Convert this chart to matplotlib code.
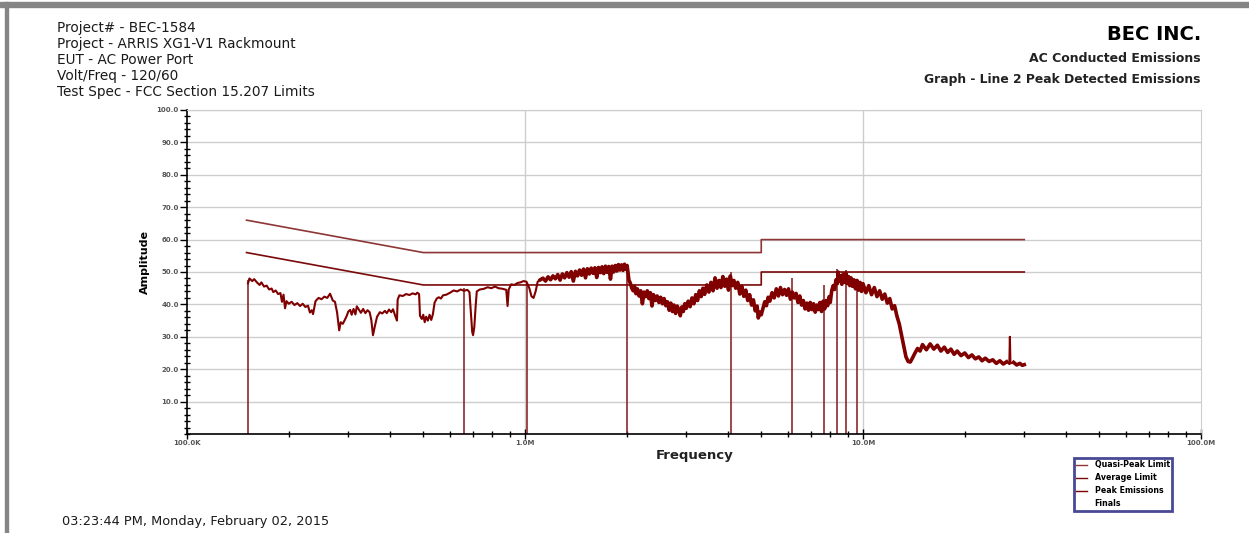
import matplotlib
matplotlib.use("Agg")
import matplotlib.pyplot as plt
from matplotlib.lines import Line2D
from matplotlib.patches import Rectangle
from matplotlib.ticker import FixedLocator, FixedFormatter, MultipleLocator

# limit lines (MHz, dBuV)
qp_freq = [0.15, 0.5, 5.0, 5.0, 30.0]
qp_amp = [66, 56, 56, 60, 60]
avg_freq = [0.15, 0.5, 5.0, 5.0, 30.0]
avg_amp = [56, 46, 46, 50, 50]

# peak emissions trace (MHz, dBuV)
peak_freq = [
    0.1515, 0.153, 0.156, 0.158, 0.161, 0.164, 0.166, 0.169, 0.172, 0.175,
    0.178, 0.180, 0.183, 0.186, 0.189, 0.191, 0.193, 0.195, 0.197, 0.200,
    0.204, 0.208, 0.212, 0.216, 0.220, 0.224, 0.228, 0.231, 0.234, 0.236,
    0.240, 0.245, 0.250, 0.255, 0.260, 0.265, 0.270, 0.274, 0.278, 0.282,
    0.285, 0.289, 0.293, 0.297, 0.300, 0.304, 0.307, 0.311, 0.315, 0.318,
    0.322, 0.327, 0.332, 0.337, 0.342, 0.347, 0.351, 0.355, 0.360, 0.365,
    0.372, 0.378, 0.385, 0.390, 0.396, 0.402, 0.407, 0.412, 0.418, 0.420,
    0.425, 0.435, 0.445, 0.455, 0.465, 0.475, 0.480, 0.486, 0.489, 0.495,
    0.500, 0.505, 0.510, 0.516, 0.522, 0.528, 0.534, 0.540, 0.548, 0.556,
    0.564, 0.572, 0.585, 0.600, 0.615, 0.630, 0.645, 0.660, 0.675, 0.685,
    0.690, 0.698, 0.702, 0.708, 0.714, 0.720, 0.735, 0.755, 0.775, 0.795,
    0.815, 0.835, 0.860, 0.880, 0.888, 0.895, 0.910, 0.930, 0.950, 0.970,
    0.990, 1.010, 1.030, 1.045, 1.060, 1.075, 1.090, 1.110, 1.130, 1.150,
    1.170, 1.190, 1.210, 1.230, 1.250, 1.270, 1.290, 1.310, 1.330, 1.350,
    1.370, 1.390, 1.410, 1.430, 1.450, 1.470, 1.490, 1.510, 1.530, 1.550,
    1.570, 1.590, 1.610, 1.630, 1.650, 1.670, 1.690, 1.710, 1.730, 1.750,
    1.770, 1.790, 1.810, 1.830, 1.850, 1.870, 1.890, 1.910, 1.930, 1.950,
    1.970, 1.990, 2.005, 2.030, 2.050, 2.070, 2.090, 2.110, 2.130, 2.150,
    2.175, 2.200, 2.225, 2.250, 2.275, 2.300, 2.325, 2.350, 2.375, 2.400,
    2.430, 2.460, 2.490, 2.520, 2.550, 2.580, 2.610, 2.640, 2.670, 2.700,
    2.730, 2.760, 2.790, 2.820, 2.850, 2.880, 2.910, 2.940, 2.970, 3.000,
    3.040, 3.080, 3.120, 3.160, 3.200, 3.240, 3.280, 3.320, 3.360, 3.400,
    3.450, 3.500, 3.550, 3.600, 3.650, 3.700, 3.750, 3.800, 3.850, 3.900,
    3.950, 4.000, 4.050, 4.100, 4.150, 4.200, 4.260, 4.320, 4.380, 4.440,
    4.500, 4.560, 4.620, 4.680, 4.740, 4.800, 4.860, 4.900, 4.950, 5.000,
    5.060, 5.120, 5.180, 5.240, 5.300, 5.380, 5.460, 5.540, 5.620, 5.700,
    5.780, 5.860, 5.940, 6.020, 6.100, 6.180, 6.260, 6.340, 6.420, 6.500,
    6.580, 6.660, 6.740, 6.820, 6.900, 6.980, 7.060, 7.140, 7.220, 7.300,
    7.380, 7.460, 7.540, 7.620, 7.700, 7.780, 7.860, 7.940, 8.000, 8.080,
    8.160, 8.240, 8.320, 8.400, 8.440, 8.500, 8.580, 8.660, 8.740, 8.820,
    8.900, 8.980, 9.060, 9.140, 9.220, 9.300, 9.400, 9.500, 9.600, 9.700,
    9.800, 9.900, 10.00, 10.20, 10.40, 10.60, 10.80, 11.00, 11.20, 11.40,
    11.60, 11.80, 12.00, 12.20, 12.40, 12.60, 12.80, 13.00, 13.20, 13.40,
    13.60, 13.80, 14.00, 14.25, 14.50, 14.75, 15.00, 15.40, 15.80, 16.20,
    16.60, 17.00, 17.40, 17.80, 18.20, 18.60, 19.00, 19.50, 20.00, 20.50,
    21.00, 21.50, 22.00, 22.50, 23.00, 23.60, 24.20, 24.80, 25.40, 26.00,
    26.60, 27.10, 27.20, 27.30, 27.90, 28.50, 29.10, 29.60, 30.00,
]
peak_amp = [
    46.5, 48.0, 47.2, 47.8, 46.8, 46.0, 46.8, 45.5, 45.8, 44.6,
    44.9, 43.8, 44.3, 43.2, 43.5, 40.8, 43.0, 38.8, 41.0, 40.2,
    40.8, 39.8, 40.4, 39.5, 40.2, 39.2, 39.6, 37.5, 38.2, 37.0,
    41.0, 42.0, 41.6, 42.4, 42.0, 43.3, 41.2, 40.8, 37.5, 32.0,
    34.5, 34.0, 35.2, 36.5, 37.8, 38.3, 36.8, 38.6, 36.9, 39.4,
    38.5, 37.4, 38.6, 37.3, 38.2, 37.6, 35.2, 30.5, 33.5, 36.2,
    37.6, 37.2, 38.0, 37.3, 38.4, 37.6, 38.5, 36.8, 35.0, 41.5,
    42.8, 42.6, 43.2, 42.9, 43.4, 43.1, 43.6, 43.2, 36.5, 35.5,
    36.8, 34.5, 36.2, 35.0, 36.8, 35.2, 37.0, 40.5, 41.8, 42.2,
    41.8, 42.8, 43.0, 43.6, 44.3, 44.0, 44.6, 44.2, 44.5, 43.8,
    39.0, 31.5, 30.5, 33.0, 39.0, 44.0, 44.6, 44.8, 45.3, 45.0,
    45.5, 45.0, 44.8, 44.5, 39.5, 44.6, 46.2, 46.0, 46.6, 46.8,
    47.2, 47.0, 45.0, 42.5, 42.0, 44.0, 47.0, 47.6, 48.1, 47.2,
    48.5, 47.6, 48.8, 47.9, 49.2, 47.5, 49.4, 48.2, 49.8, 48.4,
    50.1, 47.2, 50.2, 48.8, 50.6, 49.0, 50.9, 48.2, 51.0, 49.4,
    51.2, 49.6, 51.3, 48.3, 51.4, 49.8, 51.6, 49.5, 51.8, 49.9,
    51.7, 47.8, 51.8, 50.0, 52.0, 50.3, 52.3, 50.6, 52.2, 50.5,
    52.4, 50.8, 52.0, 47.5, 46.5, 45.0, 44.2, 45.5, 43.3, 44.8,
    42.6, 44.2, 40.2, 43.8, 42.4, 44.2, 41.8, 43.6, 39.5, 43.0,
    41.2, 42.6, 40.6, 42.2, 40.2, 41.8, 39.6, 40.8, 38.2, 40.4,
    37.8, 39.8, 37.2, 39.5, 38.4, 36.5, 39.2, 37.8, 40.2, 38.8,
    41.0, 39.3, 42.0, 40.2, 43.0, 41.2, 44.2, 42.4, 45.0, 43.1,
    46.0, 43.8, 46.8, 44.2, 48.2, 45.0, 47.4, 45.2, 48.6, 45.6,
    47.8, 44.4, 48.8, 45.8, 47.4, 45.0, 46.8, 43.2, 45.6, 42.5,
    44.4, 41.2, 43.0, 39.8, 41.4, 38.0, 39.5, 35.8, 37.6, 36.8,
    38.8, 40.8, 39.6, 42.2, 41.0, 43.6, 42.0, 44.8, 42.6, 45.2,
    43.0, 44.6, 42.8, 44.8, 41.6, 43.8, 42.0, 43.4, 40.6, 42.6,
    39.8, 41.2, 38.6, 40.4, 38.2, 40.6, 38.4, 40.2, 37.6, 39.8,
    38.4, 40.6, 37.8, 41.0, 38.6, 41.2, 39.6, 42.4, 40.6, 44.2,
    45.8, 44.6, 47.6, 46.4, 50.0, 47.2, 48.8, 46.2, 49.4, 46.8,
    49.6, 46.4, 48.6, 45.8, 48.2, 45.6, 47.6, 44.8, 47.4, 44.4,
    46.8, 44.0, 46.4, 43.6, 45.8, 43.0, 45.2, 42.4, 44.2, 41.6,
    43.2, 40.4, 41.8, 38.6, 39.6, 36.4, 34.0, 30.5, 27.0, 23.8,
    22.4, 22.2, 23.4, 25.0, 26.4, 25.6, 27.6, 26.0, 27.8, 26.2,
    27.4, 25.6, 26.8, 25.2, 26.2, 24.6, 25.6, 24.2, 25.0, 23.6,
    24.4, 23.2, 23.8, 22.6, 23.4, 22.4, 22.9, 21.8, 22.6, 21.6,
    22.3, 21.6, 30.0, 21.8, 22.1, 21.3, 21.8, 21.2, 21.4,
]

# finals: vertical markers
finals_freq = [0.1515, 0.66, 1.013, 2.0, 4.08, 6.17, 7.67, 8.40, 8.91, 9.63]
finals_amp = [47.4, 45.0, 46.5, 51.5, 50.0, 48.0, 46.0, 51.0, 50.5, 47.5]

y_ticks = [10, 20, 30, 40, 50, 60, 70, 80, 90, 100]
x_ticks = [0.1, 1.0, 10.0, 100.0]
x_labels = ["100.0K", "1.0M", "10.0M", "100.0M"]

header_left = [
    "Project# - BEC-1584",
    "Project - ARRIS XG1-V1 Rackmount",
    "EUT - AC Power Port",
    "Volt/Freq - 120/60",
    "Test Spec - FCC Section 15.207 Limits",
]

W, H = 1249, 533
fig = plt.figure(figsize=(W / 100, H / 100), dpi=100)
fig.patch.set_facecolor("white")

# window frame (grey bars top and left)
fig.patches.append(Rectangle((0, 1 - 7 / H), 1, 5 / H, transform=fig.transFigure,
                             color="#858585", zorder=0))
fig.patches.append(Rectangle((5 / W, 0), 3 / W, 1 - 2 / H, transform=fig.transFigure,
                             color="#858585", zorder=0))

ax = fig.add_axes([187 / W, 99 / H, (1201 - 187) / W, (434 - 110) / H])
ax.set_xscale("log")
ax.set_xlim(0.1, 100)
ax.set_ylim(0, 100)

ax.plot(qp_freq, qp_amp, color="#8e3636", lw=1.2, zorder=3)
ax.plot(avg_freq, avg_amp, color="#7a0a0a", lw=1.2, zorder=3)
ax.vlines(finals_freq, 0, finals_amp, color="#8a2a2a", lw=1.2, zorder=2)
ax.plot(peak_freq, peak_amp, color="#800000", lw=1.5, zorder=4)

# the noisy part of the sweep is drawn heavier, like the analyser plot
# (skip the thin spike near 27 MHz)
for lo, hi in [(1.1, 27.05), (27.35, 30.0)]:
    idx = [i for i, f in enumerate(peak_freq) if lo <= f <= hi]
    ax.plot([peak_freq[i] for i in idx], [peak_amp[i] for i in idx],
            color="#800000", lw=2.6, zorder=4)

# grid and spines
for y in y_ticks:
    ax.axhline(y, color="#cdcdcd", lw=1, zorder=1)
for x in [1.0, 10.0]:
    ax.axvline(x, color="#cdcdcd", lw=1, zorder=1)
for s in ["top", "right"]:
    ax.spines[s].set_color("#cdcdcd")
for s in ["left", "bottom"]:
    ax.spines[s].set_color("black")
    ax.spines[s].set_linewidth(1.2)

ax.yaxis.set_major_locator(FixedLocator(y_ticks))
ax.yaxis.set_major_formatter(FixedFormatter(["%.1f" % v for v in y_ticks]))
ax.yaxis.set_minor_locator(MultipleLocator(2))
ax.xaxis.set_major_locator(FixedLocator(x_ticks))
ax.xaxis.set_major_formatter(FixedFormatter(x_labels))
ax.xaxis.set_minor_locator(FixedLocator([m * d for d in [0.1, 1, 10] for m in range(2, 10)]))
ax.xaxis.set_minor_formatter(FixedFormatter([]))

ax.tick_params(axis="y", which="major", direction="out", length=5, width=1,
               labelsize=5, labelcolor="#555555", pad=1)
ax.tick_params(axis="y", which="minor", direction="inout", length=5, width=1)
ax.tick_params(axis="x", which="major", direction="inout", length=7, width=1,
               labelsize=5, labelcolor="#555555", pad=1)
ax.tick_params(axis="x", which="minor", direction="inout", length=5, width=1)
for lab in ax.get_xticklabels() + ax.get_yticklabels():
    lab.set_fontweight("bold")

fig.text(145 / W, 1 - 262 / H, "Amplitude", rotation=90, ha="center", va="center",
         fontsize=8, fontweight="bold")
fig.text(695 / W, 1 - 456 / H, "Frequency", ha="center", va="center",
         fontsize=9.5, fontweight="bold", color="#222222")

# header text
for i, line in enumerate(header_left):
    fig.text(57 / W, 1 - (28 + 16 * i) / H, line, ha="left", va="center",
             fontsize=9.8, color="#1a1a1a")
fig.text(1201 / W, 1 - 35 / H, "BEC INC.", ha="right", va="center",
         fontsize=14, fontweight="bold")
fig.text(1201 / W, 1 - 58 / H, "AC Conducted Emissions", ha="right", va="center",
         fontsize=9, fontweight="bold", color="#222222")
fig.text(1201 / W, 1 - 80 / H, "Graph - Line 2 Peak Detected Emissions", ha="right",
         va="center", fontsize=8.9, fontweight="bold", color="#222222")
fig.text(62 / W, 1 - 521 / H, "03:23:44 PM, Monday, February 02, 2015", ha="left",
         va="center", fontsize=9.3, color="#1a1a1a")

# legend
handles = [
    Line2D([], [], color="#8e3636", lw=1),
    Line2D([], [], color="#7a0a0a", lw=1),
    Line2D([], [], color="#800000", lw=1),
    Line2D([], [], color="none", lw=1),
]
labels = ["Quasi-Peak Limit", "Average Limit", "Peak Emissions", "Finals"]
leg = fig.legend(handles, labels, loc="upper left",
                 bbox_to_anchor=(1074 / W, 1 - 458 / H),
                 prop={"size": 5.7, "weight": "bold"}, frameon=True, fancybox=False,
                 handlelength=1.3, handletextpad=1.0, labelspacing=0.5,
                 borderpad=0.3, borderaxespad=0)
leg.get_frame().set_edgecolor("#1a1a7a")
leg.get_frame().set_linewidth(2)

plt.savefig("out.png", dpi=100)
